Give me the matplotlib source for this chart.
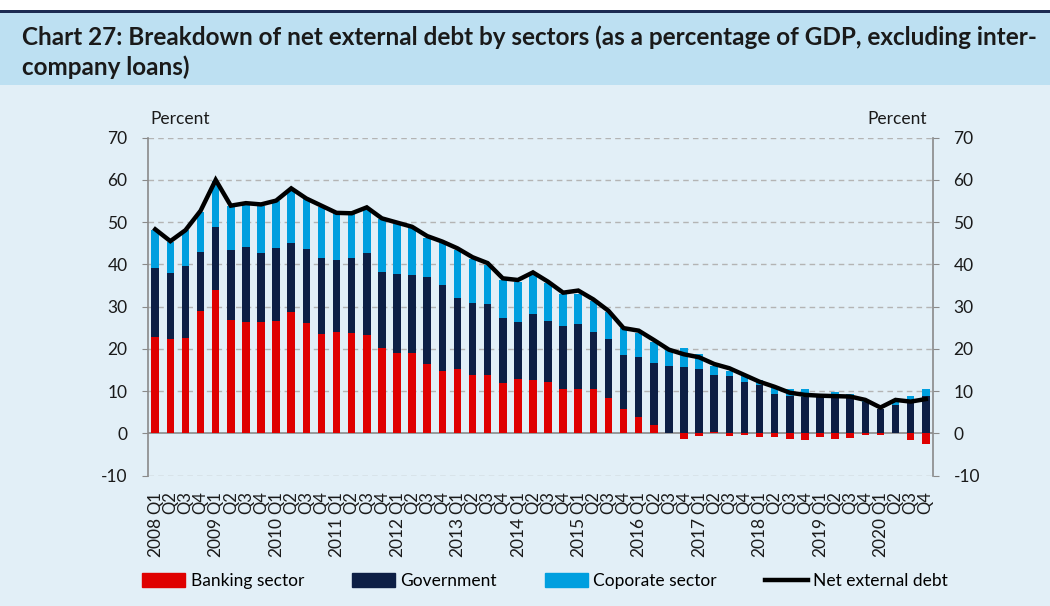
import numpy as np
import matplotlib.pyplot as plt
from matplotlib.patches import Patch, Rectangle
from matplotlib.lines import Line2D
import matplotlib.transforms as mtransforms

plt.rcParams['font.family'] = ['Lato', 'DejaVu Sans']
plt.rcParams['axes.unicode_minus'] = False

# ---------- data (percent of GDP) ----------
years = list(range(2008, 2021))
quarters = ["Q1", "Q2", "Q3", "Q4"]

banking = [22.7, 22.3, 22.6, 29.0, 33.9, 26.8, 26.3, 26.4, 26.7, 28.7, 26.2, 23.5,
           24.0, 23.8, 23.3, 20.2, 19.1, 19.1, 16.3, 14.8, 15.2, 13.7, 13.9, 11.8,
           12.8, 12.5, 12.1, 10.4, 10.6, 10.6, 8.4, 5.7, 3.9, 1.9, 0.1, -1.3,
           -0.6, 0.4, -0.6, -0.5, -1.0, -0.9, -1.3, -1.7, -0.9, -1.3, -1.1, -0.3,
           -0.3, 0.0, -1.6, -2.6]
government = [16.4, 15.7, 16.9, 14.0, 15.0, 16.5, 17.7, 16.4, 17.1, 16.4, 17.4, 18.1,
              17.0, 17.7, 19.3, 18.1, 18.7, 18.5, 20.6, 20.3, 16.9, 17.2, 16.6, 15.4,
              13.6, 15.8, 14.6, 14.9, 15.3, 13.5, 14.0, 12.9, 14.1, 14.7, 15.8, 15.7,
              15.2, 13.4, 13.6, 12.2, 11.4, 9.4, 8.8, 8.7, 8.9, 9.4, 8.7, 7.5,
              5.7, 6.7, 7.9, 8.9]
corporate = [9.0, 7.4, 8.6, 9.5, 10.9, 10.6, 10.1, 11.0, 11.1, 12.3, 11.9, 12.1,
             11.1, 10.4, 10.3, 12.4, 11.7, 10.9, 9.4, 9.9, 11.3, 10.3, 9.4, 9.1,
             9.5, 9.7, 8.8, 7.6, 7.1, 7.2, 6.4, 6.3, 5.7, 5.1, 3.8, 4.4,
             3.5, 2.1, 1.1, 1.7, 1.2, 1.9, 1.6, 1.7, 0.5, 0.4, 0.7, 0.1,
             0.1, 0.9, 1.0, 1.6]
net_debt = [48.3, 45.5, 48.1, 52.7, 60.0, 53.9, 54.5, 54.2, 55.1, 58.0, 55.6, 53.9,
            52.2, 52.1, 53.5, 50.9, 49.9, 48.9, 46.7, 45.4, 43.8, 41.7, 40.3, 36.7,
            36.3, 38.1, 35.9, 33.3, 33.8, 31.7, 29.0, 24.9, 24.3, 22.1, 19.8, 18.7,
            18.0, 16.4, 15.4, 13.8, 12.2, 11.0, 9.6, 9.1, 8.9, 8.8, 8.7, 7.9,
            6.1, 7.9, 7.5, 8.1]

# ---------- colours ----------
c_bank = "#df0000"
c_gov = "#0d1f45"
c_corp = "#009fdf"
bg = "#e2eff7"
header = "#bde0f2"
grid_c = "#b4b4b4"
axis_c = "#8a8a8a"

banking = np.array(banking)
government = np.array(government)
corporate = np.array(corporate)
x = np.arange(len(banking))

fig = plt.figure(figsize=(10.5, 6.06), dpi=100)
fig.patch.set_facecolor(bg)

W, H = 1050, 606
# header band
fig.add_artist(Rectangle((0, 1 - 10 / H), 1, 10 / H, transform=fig.transFigure,
                         facecolor="white", edgecolor="none", zorder=0))
fig.add_artist(Rectangle((0, 1 - 13 / H), 1, 3 / H, transform=fig.transFigure,
                         facecolor="#1c2b52", edgecolor="none", zorder=0))
fig.add_artist(Rectangle((0, 1 - 85 / H), 1, 72 / H, transform=fig.transFigure,
                         facecolor=header, edgecolor="none", zorder=0))
fig.text(22 / W, 1 - 37 / H,
         "Chart 27: Breakdown of net external debt by sectors (as a percentage of GDP, excluding inter-",
         fontsize=17.5, fontweight="bold", color="#1a1a1a", va="center", ha="left")
fig.text(22 / W, 1 - 67 / H, "company loans)",
         fontsize=17.5, fontweight="bold", color="#1a1a1a", va="center", ha="left")

# ---------- plot area ----------
left, right = 147.7, 933.3
top, bottom = 137.7, 475.5
ax = fig.add_axes([left / W, 1 - bottom / H, (right - left) / W, (bottom - top) / H])
ax.set_facecolor(bg)

pos_bank = np.clip(banking, 0, None)
neg_bank = np.clip(banking, None, 0)
w = 0.5
ax.bar(x, pos_bank, w, color=c_bank, zorder=3)
ax.bar(x, neg_bank, w, color=c_bank, zorder=3)
ax.bar(x, government, w, bottom=pos_bank, color=c_gov, zorder=3)
ax.bar(x, corporate, w, bottom=pos_bank + government, color=c_corp, zorder=3)
ax.plot(x, net_debt, color="black", lw=3.2, zorder=4, solid_joinstyle="miter")

ax.set_xlim(-0.5, len(x) - 0.5)
ax.set_ylim(-10, 70)
yt = np.arange(-10, 71, 10)
for v in yt:
    if v == 0:
        ax.axhline(0, color=axis_c, lw=1.2, zorder=2)
    else:
        ax.axhline(v, color=grid_c, lw=1.0, ls=(0, (4, 3)), zorder=1)

for s in ["top", "bottom"]:
    ax.spines[s].set_visible(False)
for s in ["left", "right"]:
    ax.spines[s].set_color(axis_c)
    ax.spines[s].set_linewidth(1.2)

ax.set_yticks(yt)
ax.tick_params(axis="y", which="both", left=True, right=True, labelleft=True,
               labelright=True, length=4.5, color=axis_c, labelsize=12.5,
               labelcolor="#1a1a1a", pad=10)

qlabels = [q for y in years for q in quarters]
ax.set_xticks(x)
ax.set_xticklabels(qlabels, rotation=90, fontsize=12, color="#1a1a1a")
ax.tick_params(axis="x", length=0, pad=11)

trans = mtransforms.blended_transform_factory(ax.transData, ax.transAxes)
for i, yr in enumerate(years):
    ax.text(i * 4, -0.122, str(yr), rotation=90, ha="center", va="top",
            fontsize=12.5, color="#1a1a1a", transform=trans)

fig.text(150 / W, 1 - 119 / H, "Percent", fontsize=12.5, ha="left", va="center", color="#1a1a1a")
fig.text(927 / W, 1 - 119 / H, "Percent", fontsize=12.5, ha="right", va="center", color="#1a1a1a")

handles = [Patch(color=c_bank), Patch(color=c_gov), Patch(color=c_corp),
           Line2D([0], [0], color="black", lw=3.2)]
labels = ["Banking sector", "Government", "Coporate sector", "Net external debt"]
fig.legend(handles, labels, ncol=4, loc="center", bbox_to_anchor=(545 / W, 1 - 581 / H),
           frameon=False, fontsize=12.5, handlelength=2.5, handleheight=0.9,
           handletextpad=0.3, columnspacing=2.75)

fig.savefig("out.png", dpi=100, facecolor=fig.get_facecolor())
